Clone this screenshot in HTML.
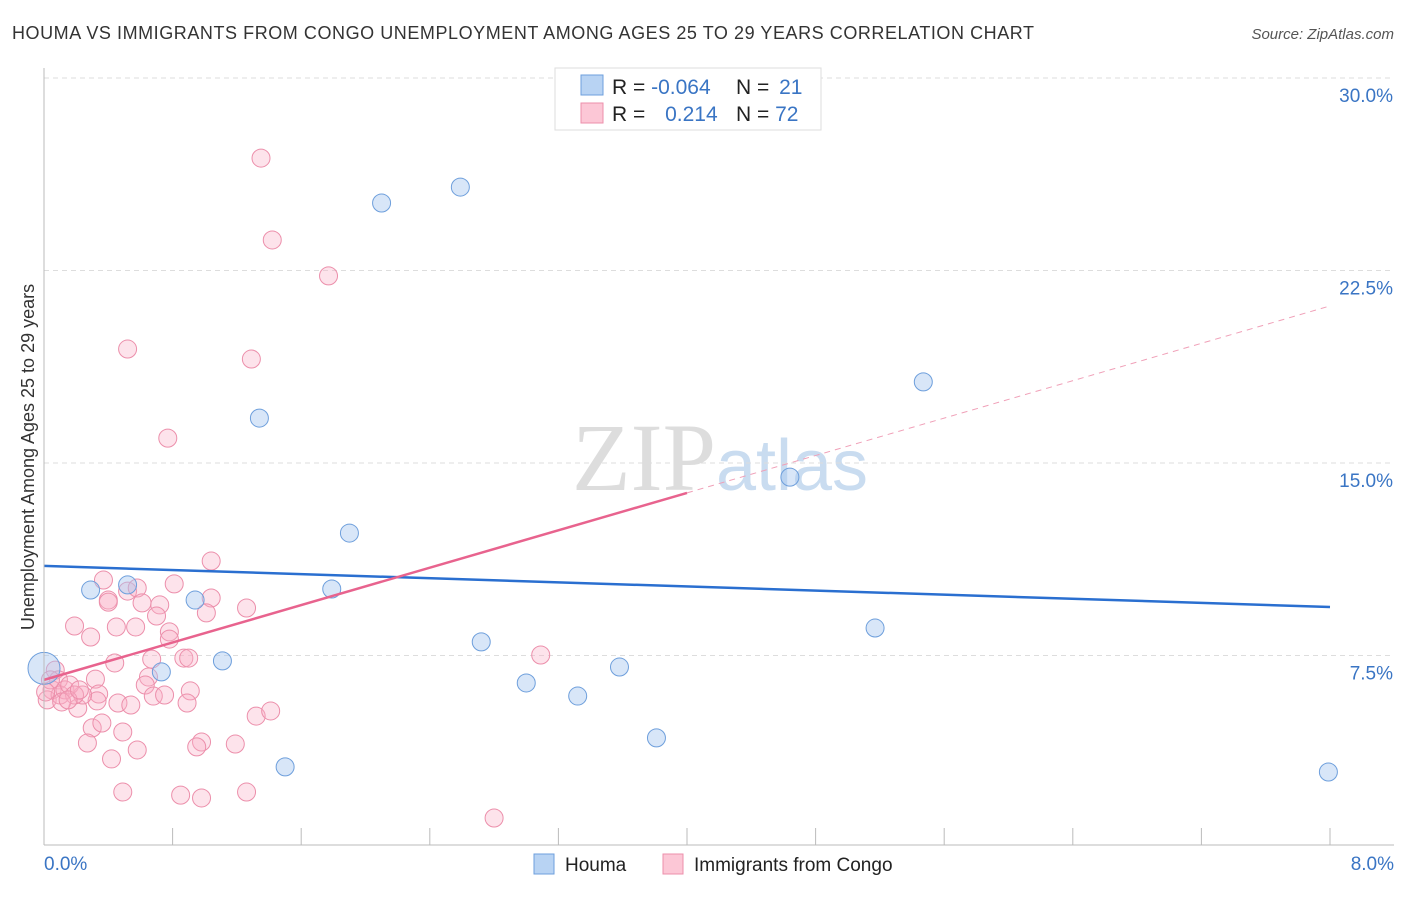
<!DOCTYPE html>
<html><head><meta charset="utf-8"><style>
body{margin:0;background:#fff;font-family:"Liberation Sans",sans-serif;}
</style></head><body>
<svg id="c" width="1406" height="892" xmlns="http://www.w3.org/2000/svg">
<text x="12" y="39" font-size="18" fill="#333" textLength="1022" lengthAdjust="spacing">HOUMA VS IMMIGRANTS FROM CONGO UNEMPLOYMENT AMONG AGES 25 TO 29 YEARS CORRELATION CHART</text>
<text x="1394" y="39" font-size="15" fill="#555" text-anchor="end" font-style="italic">Source: ZipAtlas.com</text>
<text x="720" y="490" font-size="96" fill="#ddd" text-anchor="middle" font-family="Liberation Serif,serif">ZIP<tspan fill="#c9dcf0" font-family="Liberation Sans,sans-serif" font-size="72">atlas</tspan></text>
<g id="grid"></g><g id="pts"></g><g id="lines"></g>
<line x1="44" y1="68" x2="44" y2="845" stroke="#bbb"/>
<line x1="44" y1="845" x2="1394" y2="845" stroke="#bbb"/>
<text transform="translate(34,457) rotate(-90)" font-size="18" fill="#333" text-anchor="middle">Unemployment Among Ages 25 to 29 years</text>
<text x="44" y="870" font-size="19" fill="#3a75c4">0.0%</text>
<text x="1394" y="870" font-size="19" fill="#3a75c4" text-anchor="end">8.0%</text>
<g>
<rect x="555" y="68" width="266" height="62" fill="#fff" stroke="#ddd"/>
<rect x="581" y="75" width="22" height="20" fill="#b8d3f3" stroke="#6e9fdc"/>
<rect x="581" y="103" width="22" height="20" fill="#fcc7d6" stroke="#ec8fab"/>
<text x="612" y="94" font-size="21" fill="#222">R = <tspan fill="#3a75c4">-0.064</tspan></text>
<text x="736" y="94" font-size="21" fill="#222">N = <tspan fill="#3a75c4" dx="4">21</tspan></text>
<text x="612" y="121" font-size="21" fill="#222">R = <tspan fill="#3a75c4" dx="14">0.214</tspan></text>
<text x="736" y="121" font-size="21" fill="#222">N = <tspan fill="#3a75c4">72</tspan></text>
</g>
<g>
<rect x="534" y="854" width="20" height="20" fill="#b8d3f3" stroke="#6e9fdc"/>
<text x="565" y="871" font-size="19" fill="#222">Houma</text>
<rect x="663" y="854" width="20" height="20" fill="#fcc7d6" stroke="#ec8fab"/>
<text x="694" y="871" font-size="19" fill="#222">Immigrants from Congo</text>
</g>
</svg>
<script>
const yTicks=[7.5,15,22.5,30];
const yTickLabels=["7.5%","15.0%","22.5%","30.0%"];
const xTicks=[0,0.8,1.6,2.4,3.2,4.0,4.8,5.6,6.4,7.2,8.0];
const houmaX=[0,0.29,0.52,0.73,0.94,1.11,1.34,1.50,1.79,1.90,2.10,2.59,2.72,3.00,3.32,3.58,3.81,4.64,5.17,5.47,7.99];
const houmaY=[7.0,10.05,10.25,6.86,9.66,7.29,16.75,3.16,10.09,12.27,25.13,25.75,8.03,6.43,5.92,7.05,4.29,14.45,8.57,18.16,2.96];
const congoPx=[104,109,108,128,138,142,159,156,174,211,211,207,246,75,90,116,135,170,169,115,151,184,189,148,145,95,153,164,191,187,118,131,99,97,77,83,92,102,123,87,137,111,201,196,236,256,271,122,180,202,247,55,58,52,48,60,65,70,75,50,261,272,328,128,252,167,541,494,62,68,80,45];
const congoPy=[580,600,602,591,588,603,605,616,584,561,598,613,608,626,637,627,627,632,639,663,659,658,658,677,685,679,696,695,691,703,703,705,694,701,708,695,728,723,732,743,750,759,742,747,744,716,711,792,795,798,792,670,680,690,700,695,690,685,695,680,158,240,276,349,359,438,655,818,702,700,690,692];
// converted to data values (% units)
const congoX=congoPx.map(p=>+((p-44)/160.75).toFixed(2));
const congoY=congoPy.map(p=>+((848-p)/25.667).toFixed(2));
const houmaTrend=[10.99,9.39];
const congoTrend=[6.55,21.12];
const NS="http://www.w3.org/2000/svg";
const X=v=>44+v/8*1286, Y=v=>848-v/30*770;
function mk(tag,attrs,parent){const e=document.createElementNS(NS,tag);for(const k in attrs)e.setAttribute(k,attrs[k]);parent.appendChild(e);return e;}
const grid=document.getElementById('grid'),pts=document.getElementById('pts'),lines=document.getElementById('lines');
yTicks.forEach((t,i)=>{
 const l=mk('line',{x1:44,x2:1394,y1:Y(t),y2:Y(t),stroke:'#ddd','stroke-dasharray':'5,4'},grid);
 
 
 const tx=mk('text',{x:1393,y:Y(t)+24,'font-size':19,fill:'#3a75c4','text-anchor':'end'},grid);
 tx.textContent=yTickLabels[i];
 
 
});
xTicks.forEach(t=>{
 const l=mk('line',{x1:X(t),x2:X(t),y1:828,y2:845,stroke:'#bbb'},grid);
 
 
});
congoX.forEach((x,i)=>{
 const c=mk('circle',{cx:X(x),cy:Y(congoY[i]),r:9,fill:'rgba(248,176,198,0.35)',stroke:'#ec8fab','stroke-width':1},pts);
 
 
});
houmaX.forEach((x,i)=>{
 const c=mk('circle',{cx:X(x),cy:Y(houmaY[i]),r:i==0?16:9,fill:'rgba(168,199,240,0.45)',stroke:'#6e9fdc','stroke-width':1},pts);
 
 
});
const hl=mk('line',{x1:X(0),y1:Y(houmaTrend[0]),x2:X(8),y2:Y(houmaTrend[1]),stroke:'#2a6fd0','stroke-width':2.5},lines);


const cm=congoTrend[0]+(congoTrend[1]-congoTrend[0])*0.5;
const cl=mk('line',{x1:X(0),y1:Y(congoTrend[0]),x2:X(4),y2:Y(cm),stroke:'#e8638e','stroke-width':2.5},lines);


const cd=mk('line',{x1:X(4),y1:Y(cm),x2:X(8),y2:Y(congoTrend[1]),stroke:'#f0a0b8','stroke-width':1,'stroke-dasharray':'6,5'},lines);


</script>
</body></html>
